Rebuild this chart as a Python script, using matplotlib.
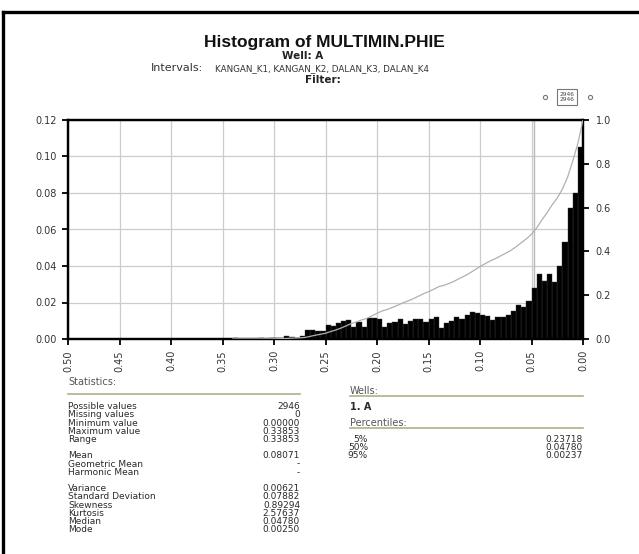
import numpy as np
import matplotlib
matplotlib.use("Agg")
import matplotlib.pyplot as plt
from matplotlib.lines import Line2D

# histogram of porosity, relative frequency per 0.005 bin (bin start ascending)
bin_width = 0.005
freq = [0.105, 0.080, 0.072, 0.053, 0.040, 0.031, 0.0356, 0.032, 0.0356, 0.028,
        0.021, 0.0173, 0.0186, 0.0155, 0.013, 0.012, 0.012, 0.0104, 0.0126, 0.013,
        0.0141, 0.015, 0.0132, 0.0108, 0.0123, 0.0101, 0.0085, 0.0058, 0.0119, 0.0108,
        0.0095, 0.0112, 0.0112, 0.0101, 0.0082, 0.0108, 0.0095, 0.009, 0.0068, 0.0108,
        0.0115, 0.0113, 0.0067, 0.0095, 0.0067, 0.0105, 0.010, 0.0085, 0.007, 0.0077,
        0.0045, 0.0045, 0.005, 0.005, 0.0015, 0.0008, 0.001, 0.0015, 0.0005, 0.0005,
        0.0003, 0.0, 0.0003, 0.0, 0.0, 0.0, 0.0, 0.0003]
median_value = 0.04780

x_ticks = [0.50, 0.45, 0.40, 0.35, 0.30, 0.25, 0.20, 0.15, 0.10, 0.05, 0.00]
y_ticks = [0.00, 0.02, 0.04, 0.06, 0.08, 0.10, 0.12]
cum_ticks = [0.0, 0.2, 0.4, 0.6, 0.8, 1.0]

intervals = "KANGAN_K1, KANGAN_K2, DALAN_K3, DALAN_K4"
well_name = "A"

stat_names = ["Possible values", "Missing values", "Minimum value", "Maximum value", "Range",
              "Mean", "Geometric Mean", "Harmonic Mean",
              "Variance", "Standard Deviation", "Skewness", "Kurtosis", "Median", "Mode"]
stat_vals = ["2946", "0", "0.00000", "0.33853", "0.33853",
             "0.08071", "-", "-",
             "0.00621", "0.07882", "0.89294", "2.57637", "0.04780", "0.00250"]
pct_labels = ["5%", "50%", "95%"]
pct_vals = ["0.23718", "0.04780", "0.00237"]
counts = ["2946", "2946"]

W, H = 639, 554
TXT = "#2a2a2a"
LINECOL = "#b3ae8c"
SMALL = "DejaVu Sans"


def fx(px):
    return px / W


def fy(py):
    return 1 - py / H


fig = plt.figure(figsize=(6.39, 5.54), dpi=100)
fig.patch.set_facecolor("white")

# page frame
fig.add_artist(Line2D([fx(3), 1.0], [fy(11.5), fy(11.5)], color="black", lw=2.4, transform=fig.transFigure))
fig.add_artist(Line2D([fx(3), fx(3)], [fy(11.5), 0.0], color="black", lw=2.4, transform=fig.transFigure))

# titles
fig.text(fx(324), fy(42), "Histogram of MULTIMIN.PHIE", ha="center", va="center",
         fontsize=12.5, fontweight="bold", family="Liberation Sans", color="#111")
fig.text(fx(303), fy(56), "Well: " + well_name, ha="center", va="center",
         fontsize=7.5, fontweight="bold", family=SMALL, color="#222")
fig.text(fx(203), fy(68), "Intervals:", ha="right", va="center", fontsize=8, family=SMALL, color="#333")
fig.text(fx(215), fy(68.5), intervals, ha="left", va="center", fontsize=6.3, family=SMALL, color="#333")
fig.text(fx(323), fy(80), "Filter:", ha="center", va="center",
         fontsize=7.5, fontweight="bold", family=SMALL, color="#222")

# little count widget top right
fig.text(fx(567), fy(97), "\n".join(counts), ha="center", va="center", fontsize=4.2,
         family=SMALL, color="#444", linespacing=1.15,
         bbox=dict(boxstyle="square,pad=0.45", fc="white", ec="#777", lw=0.8))
for cx in (545, 590):
    fig.add_artist(Line2D([fx(cx)], [fy(97)], marker="o", markersize=3, mfc="none",
                          mec="#777", mew=0.8, transform=fig.transFigure))

# histogram axes
ax = fig.add_axes([fx(68), fy(339), fx(583) - fx(68), fy(120) - fy(339)])
edges = np.arange(len(freq)) * bin_width
ax.bar(edges, freq, width=bin_width, align="edge", color="black", edgecolor="#3a3a3a",
       linewidth=0.3, zorder=3)
ax.axvline(median_value, color="#b8b8b8", lw=1.0, zorder=1)
ax.set_xlim(0.50, 0.0)
ax.set_ylim(0.0, 0.12)
ax.set_xticks(x_ticks)
ax.set_xticklabels(["%.2f" % v for v in x_ticks], rotation=90)
ax.set_yticks(y_ticks)
ax.set_yticklabels(["%.2f" % v for v in y_ticks])
ax.grid(True, color="#cccccc", lw=0.9, zorder=0)
ax.set_axisbelow(True)
for s in ax.spines.values():
    s.set_linewidth(1.6)
    s.set_color("black")
ax.tick_params(axis="both", direction="out", length=4, width=1.3, colors="black",
               labelcolor="#333", labelsize=7, pad=4)
for lab in ax.get_xticklabels() + ax.get_yticklabels():
    lab.set_family(SMALL)

# cumulative curve, accumulated from the high-porosity end
freq_arr = np.array(freq)
rev_cum = np.cumsum(freq_arr[::-1])[::-1] / freq_arr.sum()
cum_x = np.append(edges, len(freq) * bin_width)
cum_y = np.append(rev_cum, 0.0)
ax2 = ax.twinx()
ax2.plot(cum_x, cum_y, color="#b0b0b0", lw=0.9, zorder=4)
ax2.set_ylim(0.0, 1.0)
ax2.set_yticks(cum_ticks)
ax2.set_yticklabels(["%.1f" % v for v in cum_ticks])
ax2.tick_params(axis="y", direction="out", length=4, width=1.3, colors="black",
                labelcolor="#333", labelsize=7, pad=5)
for lab in ax2.get_yticklabels():
    lab.set_family(SMALL)
for s in ax2.spines.values():
    s.set_linewidth(1.6)

# statistics block
FS = 6.5
fig.text(fx(68), fy(382), "Statistics:", ha="left", va="center", fontsize=7, family=SMALL, color="#555")
fig.add_artist(Line2D([fx(68), fx(300)], [fy(394), fy(394)], color=LINECOL, lw=1.2, transform=fig.transFigure))
gaps_after = {4, 7}
row = 0
for i, (name, val) in enumerate(zip(stat_names, stat_vals)):
    y = 406.7 + row * 8.2
    fig.text(fx(68), fy(y), name, ha="left", va="center", fontsize=FS, family=SMALL, color=TXT)
    fig.text(fx(300), fy(y), val, ha="right", va="center", fontsize=FS, family=SMALL, color=TXT)
    row += 2 if i in gaps_after else 1

# wells / percentiles block
fig.text(fx(350), fy(390.5), "Wells:", ha="left", va="center", fontsize=7, family=SMALL, color="#555")
fig.add_artist(Line2D([fx(350), fx(583)], [fy(395.5), fy(395.5)], color=LINECOL, lw=1.2, transform=fig.transFigure))
fig.text(fx(350), fy(406.7), "1. " + well_name, ha="left", va="center", fontsize=7,
         fontweight="bold", family=SMALL, color=TXT)
fig.text(fx(350), fy(423), "Percentiles:", ha="left", va="center", fontsize=7, family=SMALL, color="#555")
fig.add_artist(Line2D([fx(350), fx(583)], [fy(428), fy(428)], color=LINECOL, lw=1.2, transform=fig.transFigure))
for i, (lab, val) in enumerate(zip(pct_labels, pct_vals)):
    y = 439 + i * 8.3
    fig.text(fx(368), fy(y), lab, ha="right", va="center", fontsize=FS, family=SMALL, color=TXT)
    fig.text(fx(583), fy(y), val, ha="right", va="center", fontsize=FS, family=SMALL, color=TXT)

fig.savefig("out.png", dpi=100, facecolor="white")
